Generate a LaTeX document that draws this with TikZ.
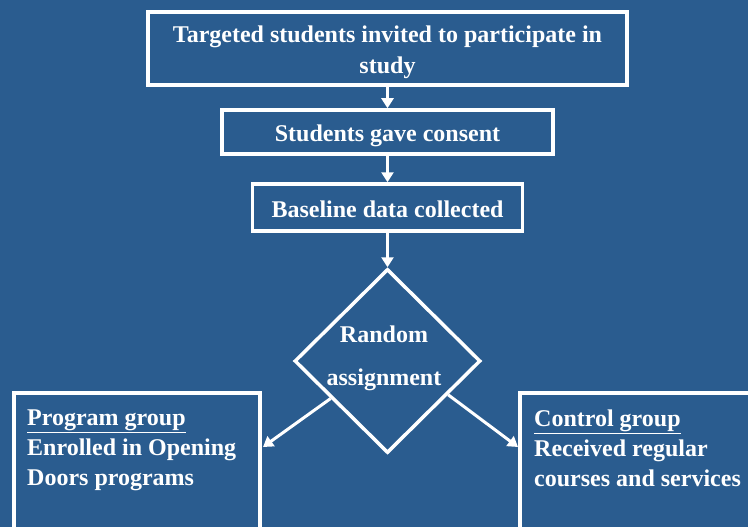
\documentclass[tikz,border=0pt]{standalone}
\usepackage{fontspec}
\setmainfont{Liberation Serif}
\usetikzlibrary{shapes.geometric,arrows.meta,calc}
\definecolor{bgblue}{RGB}{42,92,143}
\begin{document}
\begin{tikzpicture}[x=1pt,y=-1pt,
  every node/.style={text=white,font=\bfseries\fontsize{24}{31}\selectfont},
  box/.style={draw=white,line width=3.5pt,fill=bgblue,inner sep=0pt},
  lbl/.style={align=center,inner sep=0pt},
  grouptext/.style={anchor=north west,align=left,inner sep=0pt,font=\bfseries\fontsize{24}{30}\selectfont},
  arr/.style={draw=white,line width=3pt,-{Triangle[width=12pt,length=10pt]}}]
\useasboundingbox (0,0) rectangle (748,527);
\fill[bgblue] (0,0) rectangle (748,527);
\node[box,minimum width=479pt,minimum height=73pt] (b1) at (387.5,48.5) {};
\node[lbl] (t1) at (387.5,52) {Targeted students invited to participate in\\study};
\node[box,minimum width=331pt,minimum height=44pt] (b2) at (387.5,132) {};
\node[lbl] (t2) at (387.5,135.5) {Students gave consent};
\node[box,minimum width=270pt,minimum height=47pt] (b3) at (387.5,207.5) {};
\node[lbl] (t3) at (387.5,209.5) {Baseline data collected};
\node[diamond,draw=white,line width=3.5pt,inner sep=0pt,minimum width=186pt,minimum height=184pt] (dia) at (387.5,361) {};
\node[lbl] (dtext) at (384,358) {Random\\[12pt]assignment};
\begin{scope}
\clip (0,0) rectangle (748,527);
\draw[white,line width=3.5pt] (14,560) |- (260,393) -- (260,560);
\draw[white,line width=3.5pt] (520,560) |- (800,393);
\end{scope}
\coordinate (lbox) at (260,393);
\coordinate (rbox) at (520,393);
\node[grouptext] (ltext) at (27,410)
  {\underline{Program group}\\Enrolled in Opening\\Doors programs};
\node[grouptext] (rtext) at (534,410)
  {\underline{Control group}\\Received regular\\courses and services};
\coordinate (la) at ($(dia.west)!0.4!(dia.south)$);
\coordinate (ra) at ($(dia.east)!0.36!(dia.south)$);
\coordinate (lend) at ($(lbox)+(3,54)$);
\coordinate (rend) at ($(rbox)+(-2,54)$);
\draw[arr] (b1.south) -- (b2.north);
\draw[arr] (b2.south) -- (b3.north);
\draw[arr] (b3.south) -- (dia.north);
\draw[arr] (la) -- (lend);
\draw[arr] (ra) -- (rend);
\end{tikzpicture}
\end{document}
